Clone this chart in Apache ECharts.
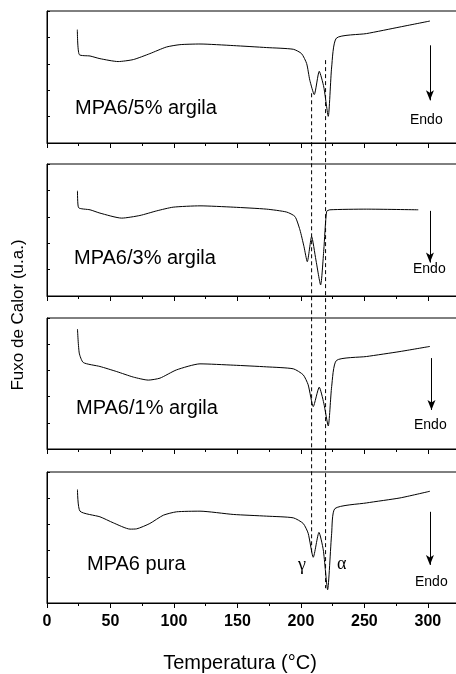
<!DOCTYPE html>
<html>
<head>
<meta charset="utf-8">
<script src="https://cdn.jsdelivr.net/npm/echarts@6/dist/echarts.min.js"></script>
<style>html,body{margin:0;padding:0;background:#fff;}#c{width:456px;height:674px;}</style>
</head>
<body>
<div id="c"></div>
<script>
// Temperature (°C) and heat-flow (arbitrary units) readings per panel
const t5 = [23.9, 25.4, 33.9, 41.7, 56, 68, 81, 94, 104.7, 120.5, 146.7, 173, 194, 200.5, 204.5, 207, 210.5, 214.4, 218, 221.5, 224.2, 228, 251.7, 278, 301.6];
const v5 = [85.9, 67.0, 65.9, 63.9, 61.7, 63.2, 67.7, 72.7, 74.5, 75.0, 73.8, 72.3, 71.0, 67.7, 60.2, 47.5, 36.7, 54.3, 42.4, 20.2, 57.6, 79.5, 82.9, 87.9, 92.4];

const t3 = [24, 24.8, 33.9, 41.7, 58.8, 73.2, 86.4, 99.4, 120.5, 146.7, 173, 188.7, 195.3, 199.2, 202.4, 205, 208.4, 211.8, 215.5, 218, 220.2, 222.8, 251.7, 292.4];
const v3 = [79.7, 67.0, 65.3, 62.8, 59.0, 61.0, 64.5, 67.3, 68.3, 67.3, 65.8, 63.6, 60.2, 50.1, 37.4, 26.0, 45.0, 27.3, 8.4, 34.9, 64.0, 65.3, 65.8, 65.3];

const t1 = [24, 25.4, 28.6, 41.7, 54.9, 68, 79.8, 89, 102, 120.5, 146.7, 173, 194, 201.8, 205.7, 209.7, 214.4, 218, 221.5, 224.2, 228, 251.7, 278, 301.6];
const v1 = [91.6, 73.2, 66.0, 63.0, 59.1, 54.9, 52.6, 54.1, 60.4, 65.0, 64.0, 62.7, 61.2, 56.6, 49.0, 32.4, 47.2, 35.0, 17.6, 47.7, 67.6, 70.6, 74.4, 78.3];

const t0 = [24, 26, 41.7, 52.2, 65.4, 70.6, 81, 91.6, 102, 120.5, 146.7, 173, 194, 201.8, 205.7, 209.7, 214.2, 217.6, 221, 224.2, 226.8, 251.7, 278, 301.6];
const v0 = [86.6, 70.1, 65.8, 61.2, 56.4, 56.6, 60.7, 67.0, 69.6, 70.1, 67.6, 66.3, 65.0, 60.7, 53.2, 34.9, 53.9, 40.5, 10.1, 53.2, 72.1, 76.4, 80.2, 85.3];

const panelNames = ['MPA6/5% argila', 'MPA6/3% argila', 'MPA6/1% argila', 'MPA6 pura'];
const xTicks = [0, 50, 100, 150, 200, 250, 300];
// Endo arrows: [temperature, start value, end value] per panel
const arrowT = [301.6, 301.6, 302.8, 301.6];
const arrowFrom = [74.0, 64.5, 69.4, 69.6];
const arrowTo = [32.3, 25.3, 29.8, 29.1];
// gamma / alpha reference lines: temperature and vertical extent (overlay units 0-100)
const refT = [208.4, 219.4];
const refFrom = [86.1, 91.7];
const refTo = [8.1, 2.5];

const temps = [t5, t3, t1, t0];
const vals = [v5, v3, v1, v0];

const F = '"Liberation Sans", Arial, sans-serif';
const LEFT = 47, WIDTH = 419;
const tops = [11, 164, 318, 472];
const heights = [132, 132, 131, 131];

const grids = [], xAxes = [], yAxes = [], series = [];
for (let i = 0; i < 4; i++) {
  grids.push({left: LEFT, width: WIDTH, top: tops[i], height: heights[i], show: true, borderColor: '#000', borderWidth: 1,
    backgroundColor: 'transparent', containLabel: false, outerBoundsMode: 'none'});
  const last = i === 3;
  xAxes.push({
    gridIndex: i, type: 'value', min: 0, max: 330, interval: 50,
    axisLine: {show: true, onZero: false, lineStyle: {color: '#000', width: 1}},
    axisTick: {show: true, inside: false, length: 5, lineStyle: {color: '#000'}},
    minorTick: {show: true, splitNumber: 2, length: 3, lineStyle: {color: '#000'}},
    splitLine: {show: false},
    axisLabel: {show: last, margin: 11, color: '#000', fontFamily: F, fontWeight: 'bold', fontSize: 16,
      showMaxLabel: false, formatter: v => xTicks.includes(v) ? String(v) : ''}
  });
  yAxes.push({
    gridIndex: i, type: 'value', min: 0, max: 100, interval: 20,
    axisLine: {show: true, lineStyle: {color: '#000', width: 1}},
    axisTick: {show: true, inside: true, length: 3, lineStyle: {color: '#000'}},
    splitLine: {show: false}, axisLabel: {show: false}
  });
  series.push({
    type: 'line', xAxisIndex: i, yAxisIndex: i, showSymbol: false, symbol: 'none', smooth: 0.2,
    lineStyle: {color: '#000', width: 1},
    data: temps[i].map((t, k) => [t, vals[i][k]]),
    markLine: {
      silent: true, symbol: ['none', 'arrow'], symbolSize: [6, 10],
      lineStyle: {color: '#000', width: 1, type: 'solid'}, label: {show: false},
      data: [[{coord: [arrowT[i], arrowFrom[i]]}, {coord: [arrowT[i], arrowTo[i]]}]]
    }
  });
}
// overlay grid for the dashed reference lines spanning all panels
grids.push({left: LEFT, width: WIDTH, top: 11, height: 592, show: false, containLabel: false, outerBoundsMode: 'none'});
xAxes.push({gridIndex: 4, type: 'value', min: 0, max: 330, show: false});
yAxes.push({gridIndex: 4, type: 'value', min: 0, max: 100, show: false});
refT.forEach((t, k) => {
  series.push({type: 'line', xAxisIndex: 4, yAxisIndex: 4, symbol: 'none', silent: true,
    lineStyle: {color: '#000', width: 1, type: [4, 3]},
    data: [[t, refFrom[k]], [t, refTo[k]]]});
});

const labelY = [110, 260, 410, 566];
const labelX = [75, 74, 76, 87];
const endoY = [121, 270, 426, 583];
const endoX = [410, 413, 414, 415];
const graphic = [];
for (let i = 0; i < 4; i++) {
  graphic.push({type: 'text', left: labelX[i], top: labelY[i] - 12,
    style: {text: panelNames[i], font: '20px ' + F, fill: '#000'}});
  graphic.push({type: 'text', left: endoX[i], top: endoY[i] - 8,
    style: {text: 'Endo', font: '14px ' + F, fill: '#000'}});
}
graphic.push({type: 'text', left: 298, top: 556, style: {text: 'γ', font: '18px "Liberation Serif", serif', fill: '#000'}});
graphic.push({type: 'text', left: 337, top: 555, style: {text: 'α', font: '18px "Liberation Serif", serif', fill: '#000'}});
graphic.push({type: 'text', x: 18, y: 315, rotation: Math.PI / 2,
  style: {text: 'Fuxo de Calor (u.a.)', font: '17px ' + F, fill: '#000', align: 'center', verticalAlign: 'middle'}});
graphic.push({type: 'text', x: 240, y: 663,
  style: {text: 'Temperatura (°C)', font: '20px ' + F, fill: '#000', align: 'center', verticalAlign: 'middle'}});

const chart = echarts.init(document.getElementById('c'), null, {renderer: 'canvas'});
chart.setOption({animation: false, backgroundColor: '#fff', grid: grids, xAxis: xAxes, yAxis: yAxes, series, graphic});
</script>
</body>
</html>
